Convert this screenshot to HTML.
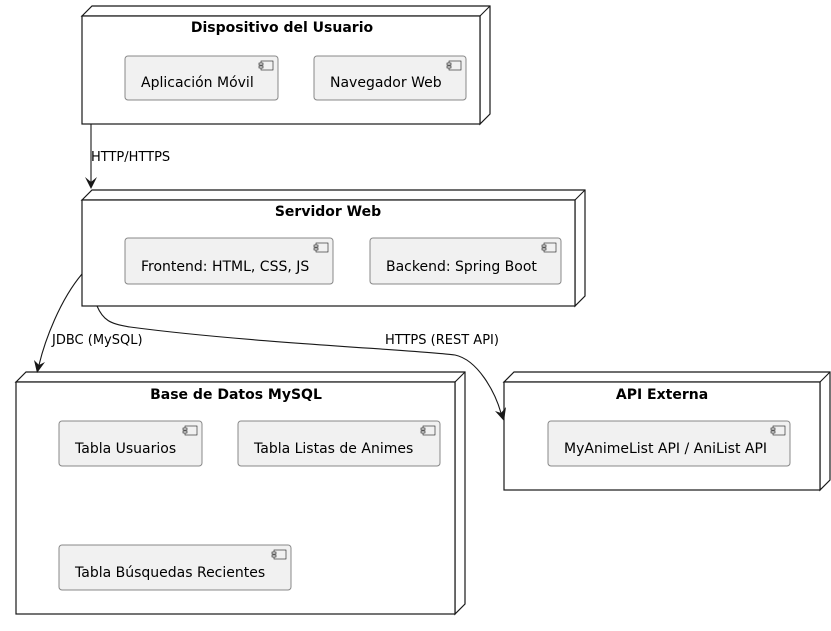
<!DOCTYPE html>
<html><head><meta charset="utf-8"><style>
body{margin:0;background:#fff}
svg{display:block;font-family:"DejaVu Sans","Liberation Sans",sans-serif}
.n{fill:#fff;stroke:#181818;stroke-width:1.2}
.c{fill:#f1f1f1;stroke:#888;stroke-width:1}
.t{font-weight:bold;font-size:14px;text-anchor:middle}
.l{font-size:14px}
.e{font-size:13px}
.a{fill:none;stroke:#181818;stroke-width:1.1}
</style></head><body>
<svg width="831" height="631" viewBox="0 0 831 631">
<defs>
<g id="ic"><rect x="0" y="0" width="12" height="9" fill="#f1f1f1" stroke="#181818" stroke-width="0.6"/><rect x="-2" y="2" width="4" height="2" fill="#f1f1f1" stroke="#181818" stroke-width="0.6"/><rect x="-2" y="5" width="4" height="2" fill="#f1f1f1" stroke="#181818" stroke-width="0.6"/></g>
</defs>
<g>
<polygon class="n" points="82,16 92,6 490,6 490,114 480,124 480,16"/><line class="a" x1="480" y1="16" x2="490" y2="6"/>
<rect class="n" x="82" y="16" width="398" height="108"/>
<text class="t" x="282" y="32">Dispositivo del Usuario</text>
<rect class="c" x="125" y="56" width="153" height="44" rx="3"/><use href="#ic" x="261" y="61"/><text class="l" x="141" y="87">Aplicación Móvil</text>
<rect class="c" x="314" y="56" width="152" height="44" rx="3"/><use href="#ic" x="449" y="61"/><text class="l" x="330" y="87">Navegador Web</text>
</g>
<g>
<polygon class="n" points="82,200 92,190 585,190 585,296 575,306 575,200"/><line class="a" x1="575" y1="200" x2="585" y2="190"/>
<rect class="n" x="82" y="200" width="493" height="106"/>
<text class="t" x="328" y="216">Servidor Web</text>
<rect class="c" x="125" y="238" width="208" height="46" rx="3"/><use href="#ic" x="316" y="243"/><text class="l" x="141" y="271">Frontend: HTML, CSS, JS</text>
<rect class="c" x="370" y="238" width="191" height="46" rx="3"/><use href="#ic" x="544" y="243"/><text class="l" x="386" y="271">Backend: Spring Boot</text>
</g>
<g>
<polygon class="n" points="16,382 26,372 465,372 465,604 455,614 455,382"/><line class="a" x1="455" y1="382" x2="465" y2="372"/>
<rect class="n" x="16" y="382" width="439" height="232"/>
<text class="t" x="236" y="399">Base de Datos MySQL</text>
<rect class="c" x="59" y="421" width="143" height="45" rx="3"/><use href="#ic" x="185" y="426"/><text class="l" x="75" y="453">Tabla Usuarios</text>
<rect class="c" x="238" y="421" width="202" height="45" rx="3"/><use href="#ic" x="423" y="426"/><text class="l" x="254" y="453">Tabla Listas de Animes</text>
<rect class="c" x="59" y="545" width="232" height="45" rx="3"/><use href="#ic" x="274" y="550"/><text class="l" x="75" y="577">Tabla Búsquedas Recientes</text>
</g>
<g>
<polygon class="n" points="504,382 514,372 830,372 830,480 820,490 820,382"/><line class="a" x1="820" y1="382" x2="830" y2="372"/>
<rect class="n" x="504" y="382" width="316" height="108"/>
<text class="t" x="662" y="399">API Externa</text>
<rect class="c" x="548" y="421" width="242" height="45" rx="3"/><use href="#ic" x="773" y="426"/><text class="l" x="564" y="453">MyAnimeList API / AniList API</text>
</g>
<path class="a" d="M91,124 L91,182"/>
<polygon points="91,189 85,177 91,182 97,177" fill="#181818"/>
<text class="e" x="91" y="161">HTTP/HTTPS</text>
<path class="a" d="M82,274 C60,300 45,340 39,365"/>
<polygon points="37,373 34,360 39,365 45,362" fill="#181818"/>
<text class="e" x="52" y="344">JDBC (MySQL)</text>
<path class="a" d="M97,306 C103,320 110,324 130,327 C250,343 420,350 455,355 C478,360 495,392 501,413"/>
<polygon points="504,421 495,411 501,413 506,407" fill="#181818"/>
<text class="e" x="385" y="344">HTTPS (REST API)</text>
</svg>
</body></html>
